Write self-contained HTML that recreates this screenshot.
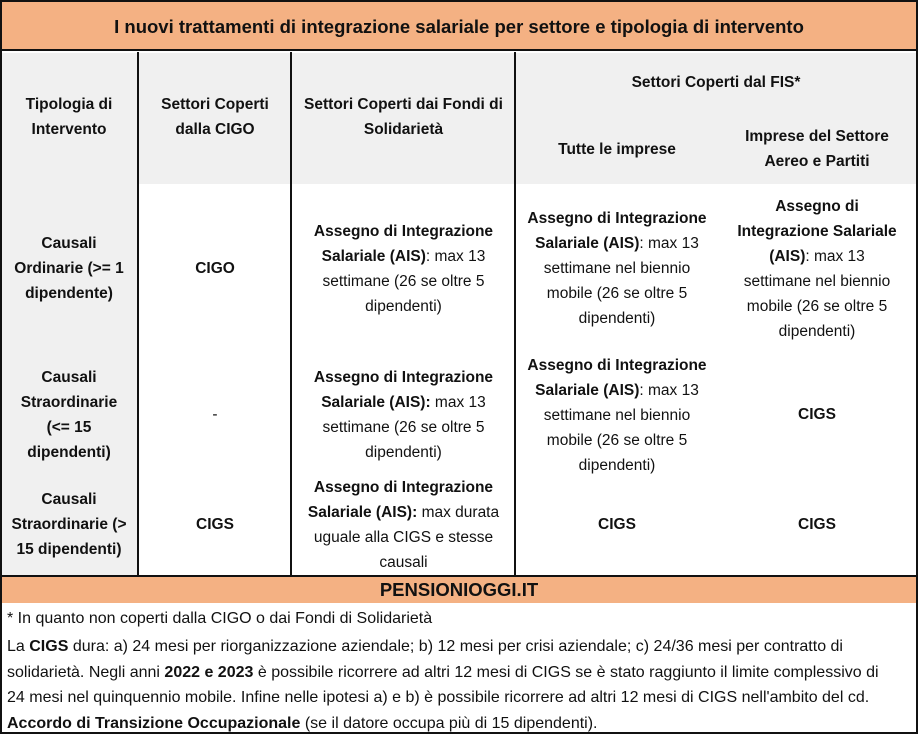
<!DOCTYPE html>
<html><head><meta charset="utf-8"><style>
*{margin:0;padding:0;box-sizing:border-box}
body{width:918px;height:734px;background:#fff;font-family:"Liberation Sans",sans-serif;color:#111;position:relative;overflow:hidden}
.a{position:absolute}
.t{position:absolute;text-align:center;line-height:25px;font-size:15.5px;white-space:nowrap}
b{font-weight:bold}
.v{position:absolute;top:52px;height:523px;width:2px;background:#111}
.f{position:absolute;left:7px;font-size:16px;line-height:25.5px;white-space:nowrap}
</style></head><body>
<div class="a" style="left:0;top:0;width:918px;height:734px;border:2px solid #111"></div>
<div class="a" style="left:2px;top:2px;width:914px;height:49px;background:#f4b183;border-bottom:2px solid #111"></div>
<div class="t" style="left:0;width:918px;top:14px;font-size:18.5px;font-weight:bold">I nuovi trattamenti di integrazione salariale per settore e tipologia di intervento</div>
<div class="a" style="left:2px;top:53px;width:914px;height:131px;background:#f0f0f0"></div>
<div class="a" style="left:2px;top:184px;width:136px;height:391px;background:#f0f0f0"></div>
<div class="v" style="left:137px"></div>
<div class="v" style="left:290px"></div>
<div class="v" style="left:514px"></div>

<div class="t" style="left:0;width:138px;top:92px"><b>Tipologia di<br>Intervento</b></div>
<div class="t" style="left:139px;width:152px;top:92px"><b>Settori Coperti<br>dalla CIGO</b></div>
<div class="t" style="left:292px;width:223px;top:92px"><b>Settori Coperti dai Fondi di<br>Solidarietà</b></div>
<div class="t" style="left:516px;width:400px;top:70px"><b>Settori Coperti dal FIS*</b></div>
<div class="t" style="left:516px;width:202px;top:137px"><b>Tutte le imprese</b></div>
<div class="t" style="left:718px;width:198px;top:124px"><b>Imprese del Settore<br>Aereo e Partiti</b></div>

<div class="t" style="left:0;width:138px;top:231px"><b>Causali<br>Ordinarie (&gt;= 1<br>dipendente)</b></div>
<div class="t" style="left:139px;width:152px;top:256px"><b>CIGO</b></div>
<div class="t" style="left:292px;width:223px;top:219px"><b>Assegno di Integrazione<br>Salariale (AIS)</b>: max 13<br>settimane (26 se oltre 5<br>dipendenti)</div>
<div class="t" style="left:516px;width:202px;top:206px"><b>Assegno di Integrazione<br>Salariale (AIS)</b>: max 13<br>settimane nel biennio<br>mobile (26 se oltre 5<br>dipendenti)</div>
<div class="t" style="left:718px;width:198px;top:194px"><b>Assegno di<br>Integrazione Salariale<br>(AIS)</b>: max 13<br>settimane nel biennio<br>mobile (26 se oltre 5<br>dipendenti)</div>

<div class="t" style="left:0;width:138px;top:365px"><b>Causali<br>Straordinarie<br>(&lt;= 15<br>dipendenti)</b></div>
<div class="t" style="left:139px;width:152px;top:402px">-</div>
<div class="t" style="left:292px;width:223px;top:365px"><b>Assegno di Integrazione<br>Salariale (AIS):</b> max 13<br>settimane (26 se oltre 5<br>dipendenti)</div>
<div class="t" style="left:516px;width:202px;top:353px"><b>Assegno di Integrazione<br>Salariale (AIS)</b>: max 13<br>settimane nel biennio<br>mobile (26 se oltre 5<br>dipendenti)</div>
<div class="t" style="left:718px;width:198px;top:402px"><b>CIGS</b></div>

<div class="t" style="left:0;width:138px;top:487px"><b>Causali<br>Straordinarie (&gt;<br>15 dipendenti)</b></div>
<div class="t" style="left:139px;width:152px;top:512px"><b>CIGS</b></div>
<div class="t" style="left:292px;width:223px;top:475px"><b>Assegno di Integrazione<br>Salariale (AIS):</b> max durata<br>uguale alla CIGS e stesse<br>causali</div>
<div class="t" style="left:516px;width:202px;top:512px"><b>CIGS</b></div>
<div class="t" style="left:718px;width:198px;top:512px"><b>CIGS</b></div>

<div class="a" style="left:2px;top:575px;width:914px;height:28px;background:#f4b183;border-top:2px solid #111"></div>
<div class="t" style="left:0;width:918px;top:577px;font-size:18.5px;font-weight:bold">PENSIONIOGGI.IT</div>

<div class="f" style="top:606px">* In quanto non coperti dalla CIGO o dai Fondi di Solidarietà</div>
<div class="f" style="top:634px">La <b>CIGS</b> dura: a) 24 mesi per riorganizzazione aziendale; b) 12 mesi per crisi aziendale; c) 24/36 mesi per contratto di<br>solidarietà. Negli anni <b>2022 e 2023</b> è possibile ricorrere ad altri 12 mesi di CIGS se è stato raggiunto il limite complessivo di<br>24 mesi nel quinquennio mobile. Infine nelle ipotesi a) e b) è possibile ricorrere ad altri 12 mesi di CIGS nell'ambito del cd.<br><b>Accordo di Transizione Occupazionale</b> (se il datore occupa più di 15 dipendenti).</div>
</body></html>
